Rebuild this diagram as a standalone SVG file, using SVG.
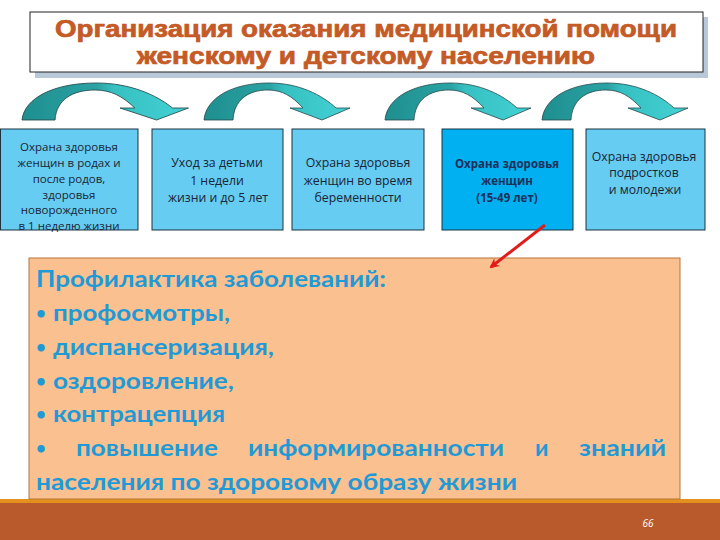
<svg xmlns="http://www.w3.org/2000/svg" width="720" height="540" viewBox="0 0 720 540">
<style>
.box{fill:#66ccf2;stroke:#1d3340;stroke-width:1}
.box4{fill:#00b0f0;stroke:#1d3340;stroke-width:1}
.bt{font-family:"Open Sans","DejaVu Sans",sans-serif;font-size:11.5px;fill:#1a2535;text-anchor:middle}
.bt5{font-size:12.3px}
.bt4{font-family:"Open Sans","DejaVu Sans",sans-serif;font-size:11.5px;font-weight:bold;fill:#1f2f5a;text-anchor:middle}
.tt{font-family:"Liberation Sans",Arial,sans-serif;font-size:23px;font-weight:bold;fill:#c45a26;stroke:#c45a26;stroke-width:0.7;text-anchor:middle}
.pt{font-family:Lato,"Open Sans",sans-serif;font-size:23px;font-weight:bold;fill:#1f9ad6}
.bu{font-family:Lato,"Open Sans",sans-serif;font-size:17px;font-weight:bold;fill:#1f9ad6}
.arc{fill:url(#tg);stroke:#24474a;stroke-width:0.8}
</style>
<defs>
<linearGradient id="tg" x1="0" y1="0" x2="1" y2="0">
<stop offset="0" stop-color="#1f8e8f"/>
<stop offset="0.45" stop-color="#2aa3a4"/>
<stop offset="0.55" stop-color="#36c0c2"/>
<stop offset="1" stop-color="#44d2d4"/>
</linearGradient>
<path id="ca" d="M0,0 C2,-22 28,-37 65,-37 C95,-37 118,-25 132,-12 L146,-12 L118,0 L86,-12 L99,-12 C88,-24 78,-30 64,-30 C44,-30 30,-20 29,0 Z"/>
<marker id="rh" markerWidth="10" markerHeight="10" refX="8" refY="5" orient="auto" markerUnits="userSpaceOnUse">
<path d="M0,0 L10,5 L0,10 L3,5 Z" fill="#e01c1c"/>
</marker>
</defs>
<rect x="0" y="0" width="720" height="540" fill="#ffffff"/>

<g id="title">
<rect x="35" y="17" width="673" height="61" fill="#b9c8d8"/>
<rect x="30" y="12" width="673" height="60" fill="#ffffff" stroke="#222" stroke-width="1"/>
<text class="tt" x="366" y="37" textLength="622" lengthAdjust="spacingAndGlyphs">Организация оказания медицинской помощи</text>
<text class="tt" x="366" y="64" textLength="458" lengthAdjust="spacingAndGlyphs">женскому и детскому населению</text>
</g>

<g id="node1">
<rect class="box" x="0.5" y="129" width="137.5" height="101"/>
<text class="bt" x="69" y="151">Охрана здоровья</text>
<text class="bt" x="69" y="167">женщин в родах и</text>
<text class="bt" x="69" y="183">после родов,</text>
<text class="bt" x="69" y="199">здоровья</text>
<text class="bt" x="69" y="214">новорожденного</text>
<text class="bt" x="69" y="230">в 1 неделю жизни</text>
</g>
<g id="node2">
<rect class="box" x="152" y="129" width="131" height="101"/>
<text class="bt bt5" x="217" y="167">Уход за детьми</text>
<text class="bt bt5" x="217" y="185">1 недели</text>
<text class="bt bt5" x="218" y="202">жизни и до 5 лет</text>
</g>
<g id="node3">
<rect class="box" x="292" y="129" width="132" height="101"/>
<text class="bt bt5" x="358" y="167">Охрана здоровья</text>
<text class="bt bt5" x="358" y="185">женщин во время</text>
<text class="bt bt5" x="358" y="202">беременности</text>
</g>
<g id="node4">
<rect class="box4" x="442" y="129" width="131" height="101"/>
<text class="bt4" x="507" y="168">Охрана здоровья</text>
<text class="bt4" x="507" y="185">женщин</text>
<text class="bt4" x="507" y="202">(15-49 лет)</text>
</g>
<g id="node5">
<rect class="box" x="586" y="129" width="119" height="101"/>
<text class="bt bt5" x="644" y="161">Охрана здоровья</text>
<text class="bt bt5" x="644" y="177">подростков</text>
<text class="bt bt5" x="645" y="194">и молодежи</text>
</g>

<g id="footer">
<rect x="0" y="499" width="720" height="5" fill="#e3901c"/>
<rect x="0" y="503" width="720" height="37" fill="#b95a2d"/>
<text x="648" y="527" font-family="'Open Sans',sans-serif" font-size="10" font-style="italic" fill="#ffffff" text-anchor="middle">66</text>
</g>

<g id="prevention">
<rect x="29" y="258" width="651" height="241" fill="#fac090" stroke="#b5773d" stroke-width="1"/>
<text class="pt" x="36" y="287" textLength="350" lengthAdjust="spacingAndGlyphs">Профилактика заболеваний:</text>
<text class="bu" x="36" y="319">•</text>
<text class="pt" x="53" y="321" textLength="177" lengthAdjust="spacingAndGlyphs">профосмотры,</text>
<text class="bu" x="36" y="353">•</text>
<text class="pt" x="53" y="355" textLength="221" lengthAdjust="spacingAndGlyphs">диспансеризация,</text>
<text class="bu" x="36" y="387">•</text>
<text class="pt" x="53" y="389" textLength="181" lengthAdjust="spacingAndGlyphs">оздоровление,</text>
<text class="bu" x="36" y="420">•</text>
<text class="pt" x="53" y="422" textLength="172" lengthAdjust="spacingAndGlyphs">контрацепция</text>
<text class="bu" x="36" y="454">•</text>
<text class="pt" x="76" y="456" textLength="142" lengthAdjust="spacingAndGlyphs">повышение</text>
<text class="pt" x="248" y="456" textLength="256" lengthAdjust="spacingAndGlyphs">информированности</text>
<text class="pt" x="535" y="456">и</text>
<text class="pt" x="579" y="456" textLength="87" lengthAdjust="spacingAndGlyphs">знаний</text>
<text class="pt" x="36" y="490" textLength="481" lengthAdjust="spacingAndGlyphs">населения по здоровому образу жизни</text>
</g>

<g id="connectors">
<use href="#ca" class="arc" transform="translate(22,120) scale(1.14,1)"/>
<use href="#ca" class="arc" transform="translate(204,120)"/>
<use href="#ca" class="arc" transform="translate(385,120)"/>
<use href="#ca" class="arc" transform="translate(542,120)"/>
<line x1="545" y1="225" x2="491" y2="267" stroke="#e01c1c" stroke-width="3" marker-end="url(#rh)"/>
</g>
</svg>
